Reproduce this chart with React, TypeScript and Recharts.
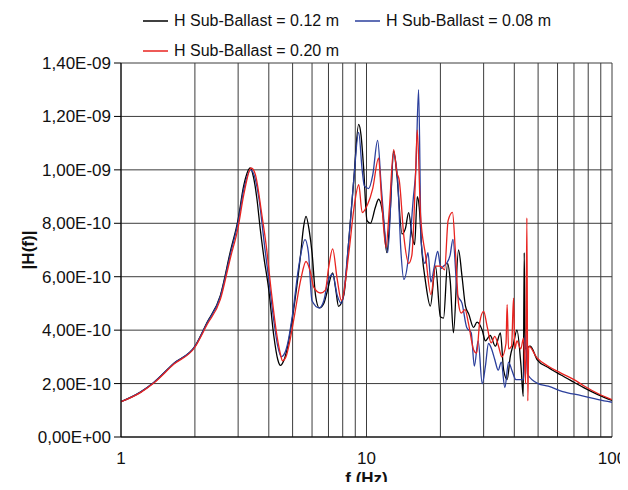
import { LineChart, Line, XAxis, YAxis, CartesianGrid, Legend, Label } from 'recharts';

// |H(f)| values in units of 1E-10, frequency in Hz
const h012: [number, number][] = [
  [1, 1.32], [1.2, 1.68], [1.36, 2.04], [1.64, 2.75], [2, 3.39], [2.24, 4.28], [2.54, 5.3], [2.79, 6.95],
  [3, 8.15], [3.16, 9.4], [3.36, 10.07], [3.47, 9.7], [3.58, 8.9], [3.69, 7.8], [3.81, 6.8], [4, 5.5],
  [4.19, 3.8], [4.35, 2.9], [4.46, 2.68], [4.6, 2.85], [4.75, 3.3], [5, 4.5], [5.38, 6.76], [5.55, 7.9],
  [5.67, 8.26], [5.85, 7.7], [6, 6.9], [6.2, 5.3], [6.42, 4.83], [6.7, 5.0], [6.9, 5.4], [7.28, 6.14],
  [7.5, 5.5], [7.69, 4.89], [8.08, 5.3], [8.46, 7.3], [8.87, 9.6], [9.29, 11.7], [9.5, 11.3], [9.73, 10.1],
  [10.05, 8.1], [10.37, 8.0], [10.87, 8.6], [11.2, 8.9], [11.67, 8.3], [12.1, 6.9], [12.5, 8.5], [12.9, 10.7],
  [13.3, 9.8], [13.96, 7.6], [14.4, 7.8], [14.85, 8.4], [15.3, 7.6], [15.7, 7.2], [16.1, 9.0], [16.4, 8.6],
  [16.8, 7.0], [17.4, 5.8], [18.2, 4.9], [19.1, 6.4], [20, 4.5], [20.6, 4.45], [21.4, 6.5], [21.95, 5.8],
  [22.6, 3.9], [23.7, 7.0], [24.5, 6.0], [25.3, 4.9], [26.1, 4.6], [27.3, 4.1], [28.2, 4.3], [29.6, 4.0],
  [30.5, 3.6], [31.9, 3.8], [33.5, 3.4], [35.1, 3.9], [36.2, 2.5], [37.4, 2.15], [38.5, 3.0], [39.7, 3.5],
  [41, 4.0], [42.6, 2.65], [43.5, 1.52], [43.9, 6.9], [44.3, 3.3], [46.5, 3.4], [49.5, 2.9], [55, 2.6],
  [61.7, 2.33], [70, 2.05], [76.7, 1.85], [88, 1.58], [100, 1.37],
];

const h008: [number, number][] = [
  [1, 1.32], [1.2, 1.68], [1.36, 2.04], [1.64, 2.75], [2, 3.39], [2.24, 4.26], [2.54, 5.26], [2.79, 6.85],
  [3, 8.05], [3.16, 9.25], [3.37, 10.0], [3.5, 9.75], [3.65, 8.9], [3.85, 7.1], [4, 5.9], [4.2, 4.3],
  [4.35, 3.4], [4.5, 3.0], [4.65, 3.15], [4.8, 3.6], [5, 4.6], [5.3, 6.4], [5.62, 7.39], [5.8, 6.9],
  [6, 5.1], [6.42, 4.83], [6.7, 5.1], [6.95, 5.8], [7.28, 6.1], [7.6, 5.3], [7.9, 5.0], [8.46, 7.3],
  [8.87, 9.6], [9.29, 11.4], [9.6, 10.0], [9.8, 9.4], [10.2, 9.3], [10.6, 9.8], [11.1, 11.1], [11.5, 9.3],
  [12.2, 6.9], [12.9, 10.6], [13.4, 9.6], [13.8, 7.0], [14.2, 5.9], [14.85, 6.8], [15.5, 8.9], [15.9, 10.1],
  [16.3, 13.0], [16.7, 7.3], [17.3, 6.5], [17.8, 6.9], [18.3, 5.8], [18.9, 6.4], [19.5, 6.95], [20.1, 6.3],
  [20.6, 6.4], [21.2, 6.5], [21.9, 6.8], [22.5, 7.4], [23.5, 5.3], [24.5, 5.0], [25.6, 4.1], [26.7, 3.9],
  [27.5, 2.65], [28.5, 3.6], [29.6, 2.0], [30.5, 2.65], [31.4, 3.5], [32.3, 3.3], [33.3, 2.9], [34.4, 2.5],
  [35.4, 2.8], [36.6, 1.85], [37.9, 2.8], [39.1, 2.5], [40.6, 2.15], [42, 2.15], [43.6, 2.15], [44.4, 3.8],
  [45.3, 2.35], [50, 2.0], [55, 1.9], [63, 1.7], [75, 1.55], [88, 1.4], [100, 1.3],
];

const h020: [number, number][] = [
  [1, 1.32], [1.2, 1.66], [1.36, 2.02], [1.64, 2.72], [2, 3.36], [2.24, 4.2], [2.54, 5.15], [2.79, 6.7],
  [3, 7.85], [3.16, 9.05], [3.39, 10.07], [3.52, 9.85], [3.75, 8.3], [3.9, 7.2], [4.1, 5.4], [4.3, 3.9],
  [4.45, 3.15], [4.55, 2.85], [4.7, 3.0], [4.85, 3.5], [5.1, 4.6], [5.4, 5.9], [5.67, 6.57], [5.9, 6.2],
  [6.1, 5.6], [6.5, 5.39], [6.8, 5.5], [7.0, 6.3], [7.28, 7.04], [7.6, 5.9], [7.9, 5.11], [8.5, 7.0],
  [8.9, 8.6], [9.3, 9.45], [9.6, 8.4], [10.1, 8.7], [10.6, 9.3], [11.2, 10.44], [11.5, 9.0], [12.0, 7.1],
  [12.4, 8.6], [12.9, 10.76], [13.3, 9.9], [13.6, 9.6], [14.2, 7.5], [14.85, 6.5], [15.3, 6.8], [15.8, 9.5],
  [16.1, 11.5], [16.6, 8.3], [17.4, 6.8], [18.3, 5.33], [19.1, 6.4], [20.0, 6.4], [20.8, 6.26], [21.5, 8.1],
  [22.4, 8.41], [23.0, 7.0], [23.7, 5.0], [24.3, 4.64], [25.2, 4.77], [26.0, 4.27], [27.3, 3.27], [28.1, 3.14],
  [28.9, 4.27], [30.0, 4.7], [31.0, 4.14], [32.2, 3.52], [33.3, 3.77], [34.5, 3.4], [35.6, 3.0], [37.0, 3.5],
  [37.4, 4.95], [37.9, 3.3], [39.0, 3.4], [39.7, 5.2], [40.2, 3.3], [41.0, 3.6], [42.5, 3.3], [43.6, 3.7],
  [44.5, 2.0], [45.0, 8.2], [45.4, 1.35], [45.8, 3.4], [49.5, 2.96], [55, 2.65], [61.7, 2.4], [70, 2.15],
  [76.7, 1.92], [88, 1.62], [100, 1.4],
];

const xTicks = [1, 2, 3, 4, 5, 6, 7, 8, 9, 10, 20, 30, 40, 50, 60, 70, 80, 90, 100];
const xLabels = [1, 10, 100];
const yTicks = [0, 2, 4, 6, 8, 10, 12, 14];

const series = [
  { name: 'H Sub-Ballast = 0.12 m', color: '#000000', data: h012 },
  { name: 'H Sub-Ballast = 0.08 m', color: '#2b3f9c', data: h008 },
  { name: 'H Sub-Ballast = 0.20 m', color: '#e8231f', data: h020 },
];

const font = '"Liberation Sans", Arial, sans-serif';

const fmtY = (v: number) => {
  if (v === 0) return '0,00E+00';
  const [m, e] = (v * 1e-10).toExponential(2).split('e');
  const n = parseInt(e, 10);
  return `${m.replace('.', ',')}E${n < 0 ? '-' : '+'}${String(Math.abs(n)).padStart(2, '0')}`;
};

// legend item positions inside the chart box (chart sits at the body's 8px margin)
const legendPos = [
  { left: 135, top: 1 },
  { left: 347, top: 1 },
  { left: 135, top: 31 },
];

function renderLegend() {
  return (
    <div style={{ position: 'relative', width: 612, height: 56, fontFamily: font, fontSize: 16, color: '#111' }}>
      {series.map((s, i) => (
        <div key={s.name} style={{ position: 'absolute', left: legendPos[i].left, top: legendPos[i].top, display: 'flex', alignItems: 'center', height: 24, whiteSpace: 'nowrap' }}>
          <svg width={25} height={4} style={{ marginRight: 6 }}>
            <line x1={0} y1={2} x2={25} y2={2} stroke={s.color} strokeWidth={1.5} />
          </svg>
          <span>{s.name}</span>
        </div>
      ))}
    </div>
  );
}

export default function App() {
  return (
    <div style={{ width: 612, height: 474 }}>
      <style>{'.recharts-surface { overflow: visible; }'}</style>
      <LineChart width={612} height={474} margin={{ top: 55, right: 8, bottom: 9, left: 0 }}>
        <CartesianGrid stroke="#3c3c3c" strokeWidth={1} />
        <XAxis
          dataKey="f"
          type="number"
          scale="log"
          domain={[1, 100]}
          allowDataOverflow
          ticks={xTicks}
          interval={0}
          tickFormatter={(v: number) => (xLabels.includes(v) ? String(v) : '')}
          tickLine={false}
          tickSize={8}
          tickMargin={7}
          height={36}
          axisLine={{ stroke: '#000' }}
          tick={{ fill: '#111', fontSize: 17, fontFamily: font }}
        >
          <Label
            content={(p: any) => (
              <text x={p.viewBox.x + p.viewBox.width / 2} y={p.viewBox.y + 47} textAnchor="middle" fontFamily={font} fontSize={17} fontWeight="bold" fill="#111">
                f (Hz)
              </text>
            )}
          />
        </XAxis>
        <YAxis
          type="number"
          domain={[0, 14]}
          ticks={yTicks}
          interval={0}
          width={113}
          tickFormatter={fmtY}
          tickSize={7}
          tickMargin={3}
          axisLine={{ stroke: '#000' }}
          tickLine={{ stroke: '#000' }}
          tick={{ fill: '#111', fontSize: 17, fontFamily: font }}
        >
          <Label
            content={(p: any) => {
              const cx = p.viewBox.x + 20;
              const cy = p.viewBox.y + p.viewBox.height / 2;
              return (
                <text x={cx} y={cy} transform={`rotate(-90 ${cx} ${cy})`} textAnchor="middle" dominantBaseline="central" fontFamily={font} fontSize={17} fontWeight="bold" fill="#111">
                  |H(f)|
                </text>
              );
            }}
          />
        </YAxis>
        <Legend layout="horizontal" verticalAlign="middle" content={renderLegend} wrapperStyle={{ top: 0, left: 0, width: 612 }} />
        {series.map((s) => (
          <Line
            key={s.name}
            name={s.name}
            data={s.data.map(([f, v]) => ({ f, v }))}
            dataKey="v"
            type="monotoneX"
            stroke={s.color}
            strokeWidth={1.3}
            dot={false}
            activeDot={false}
            isAnimationActive={false}
          />
        ))}
      </LineChart>
    </div>
  );
}
